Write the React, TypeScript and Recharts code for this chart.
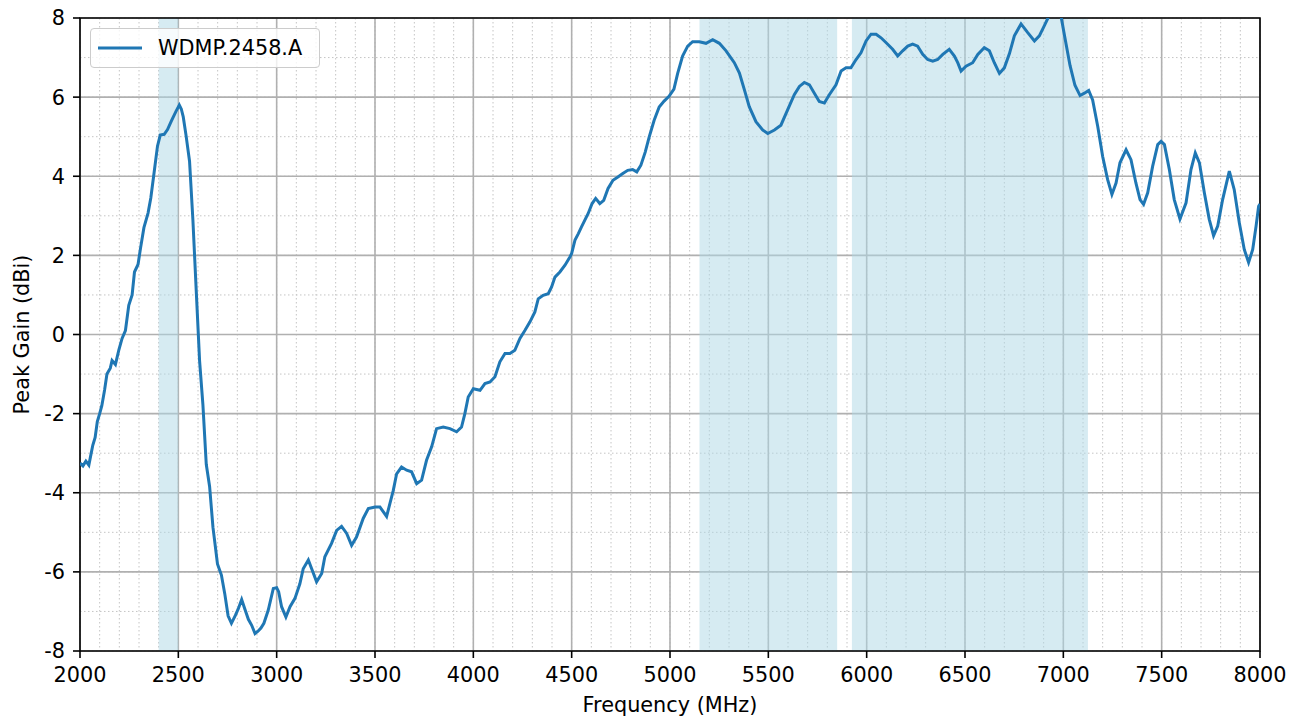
import React from 'react';
import {
  CartesianGrid,
  Legend,
  Line,
  LineChart,
  ReferenceArea,
  XAxis,
  YAxis,
} from 'recharts';

const FREQ = [
  2000, 2015, 2030, 2045, 2055, 2065, 2077, 2088, 2100, 2111, 2125, 2137, 2154, 2163, 2180, 2197,
  2214, 2231, 2248, 2265, 2277, 2295, 2308, 2325, 2346, 2360, 2377, 2394, 2408, 2428, 2445, 2466,
  2488, 2505, 2515, 2525, 2539, 2557, 2574, 2591, 2608, 2625, 2642, 2659, 2676, 2699, 2719, 2736,
  2753, 2770, 2790, 2805, 2822, 2839, 2856, 2873, 2890, 2905, 2920, 2935, 2957, 2983, 3000, 3010,
  3025, 3047, 3068, 3093, 3118, 3135, 3161, 3178, 3203, 3229, 3245, 3279, 3305, 3330, 3356, 3381,
  3406, 3440, 3466, 3500, 3525, 3559, 3576, 3593, 3610, 3635, 3661, 3686, 3712, 3737, 3762, 3788,
  3813, 3847, 3881, 3915, 3940, 3957, 3974, 4000, 4034, 4059, 4085, 4110, 4135, 4161, 4186, 4211,
  4237, 4262, 4288, 4313, 4330, 4355, 4381, 4398, 4415, 4440, 4466, 4491, 4500, 4517, 4534, 4550,
  4567, 4584, 4604, 4622, 4643, 4663, 4685, 4710, 4735, 4760, 4785, 4810, 4831, 4852, 4874, 4894,
  4919, 4945, 4970, 4995, 5020, 5039, 5064, 5090, 5115, 5149, 5183, 5217, 5251, 5285, 5327, 5353,
  5378, 5403, 5437, 5471, 5497, 5531, 5564, 5598, 5632, 5658, 5683, 5709, 5734, 5759, 5785, 5810,
  5844, 5870, 5895, 5920, 5946, 5971, 5997, 6022, 6048, 6073, 6098, 6132, 6158, 6183, 6209, 6234,
  6259, 6285, 6310, 6336, 6361, 6387, 6420, 6446, 6463, 6480, 6505, 6539, 6565, 6598, 6624, 6649,
  6675, 6700, 6726, 6751, 6785, 6819, 6853, 6878, 6903, 6924, 6945, 6965, 6988, 7008, 7034, 7059,
  7085, 7107, 7129, 7149, 7175, 7200, 7225, 7247, 7268, 7288, 7319, 7344, 7369, 7390, 7408, 7429,
  7454, 7480, 7497, 7514, 7539, 7564, 7593, 7624, 7649, 7671, 7692, 7717, 7742, 7764, 7785, 7810,
  7844, 7869, 7895, 7920, 7942, 7963, 7980, 7993, 8000,
];

const GAIN = [
  -3.25, -3.32, -3.2, -3.3, -3.05, -2.8, -2.6, -2.2, -2.0, -1.8, -1.4, -1.0, -0.85, -0.66, -0.76, -0.4,
  -0.1, 0.1, 0.74, 1.0, 1.58, 1.77, 2.19, 2.7, 3.07, 3.45, 4.1, 4.76, 5.04, 5.06, 5.18, 5.41,
  5.64, 5.8, 5.7, 5.5, 5.04, 4.38, 2.9, 1.11, -0.66, -1.78, -3.28, -3.84, -4.87, -5.8, -6.08, -6.55,
  -7.11, -7.3, -7.1, -6.93, -6.7, -6.95, -7.2, -7.35, -7.56, -7.5, -7.42, -7.3, -6.97, -6.42, -6.4, -6.5,
  -6.88, -7.14, -6.88, -6.67, -6.3, -5.92, -5.7, -5.92, -6.25, -6.04, -5.62, -5.28, -4.95, -4.85, -5.03, -5.33,
  -5.12, -4.65, -4.4, -4.36, -4.36, -4.6, -4.27, -3.94, -3.52, -3.35, -3.43, -3.47, -3.77, -3.68, -3.18, -2.84,
  -2.38, -2.34, -2.38, -2.46, -2.34, -2.0, -1.58, -1.37, -1.41, -1.24, -1.2, -1.07, -0.69, -0.48, -0.48, -0.4,
  -0.1, 0.1, 0.32, 0.57, 0.9, 0.99, 1.03, 1.2, 1.45, 1.58, 1.75, 1.96, 2.05, 2.39, 2.55, 2.72,
  2.89, 3.06, 3.31, 3.44, 3.31, 3.39, 3.69, 3.9, 3.98, 4.07, 4.15, 4.17, 4.11, 4.28, 4.61, 4.99,
  5.41, 5.75, 5.9, 6.02, 6.2, 6.6, 7.04, 7.29, 7.4, 7.4, 7.36, 7.45, 7.36, 7.17, 6.87, 6.61,
  6.19, 5.76, 5.38, 5.17, 5.08, 5.17, 5.29, 5.68, 6.06, 6.27, 6.37, 6.31, 6.1, 5.89, 5.85, 6.06,
  6.31, 6.66, 6.74, 6.74, 6.95, 7.12, 7.42, 7.59, 7.59, 7.5, 7.38, 7.21, 7.04, 7.17, 7.29, 7.34,
  7.29, 7.08, 6.95, 6.91, 6.95, 7.08, 7.21, 7.04, 6.87, 6.66, 6.78, 6.87, 7.08, 7.25, 7.17, 6.87,
  6.6, 6.74, 7.1, 7.55, 7.85, 7.63, 7.42, 7.55, 7.8, 8.02, 8.2, 8.25, 8.05, 7.5, 6.8, 6.3,
  6.04, 6.1, 6.17, 5.93, 5.26, 4.5, 3.92, 3.54, 3.83, 4.34, 4.67, 4.42, 3.83, 3.41, 3.29, 3.58,
  4.25, 4.8, 4.88, 4.8, 4.17, 3.41, 2.92, 3.33, 4.17, 4.59, 4.34, 3.58, 2.91, 2.5, 2.74, 3.41,
  4.13, 3.66, 2.82, 2.15, 1.82, 2.15, 2.74, 3.24, 3.3,
];

// shaded frequency bands (MHz)
const BANDS = [
  [2400, 2500],
  [5150, 5850],
  [5925, 7125],
];

const X_MAJOR = [2000, 2500, 3000, 3500, 4000, 4500, 5000, 5500, 6000, 6500, 7000, 7500, 8000];
const X_MINOR = [
  2000, 2100, 2200, 2300, 2400, 2500, 2600, 2700, 2800, 2900, 3000, 3100, 3200, 3300, 3400, 3500,
  3600, 3700, 3800, 3900, 4000, 4100, 4200, 4300, 4400, 4500, 4600, 4700, 4800, 4900, 5000, 5100,
  5200, 5300, 5400, 5500, 5600, 5700, 5800, 5900, 6000, 6100, 6200, 6300, 6400, 6500, 6600, 6700,
  6800, 6900, 7000, 7100, 7200, 7300, 7400, 7500, 7600, 7700, 7800, 7900, 8000,
];
const Y_MAJOR = [-8, -6, -4, -2, 0, 2, 4, 6, 8];
const Y_MINOR = [-8, -7, -6, -5, -4, -3, -2, -1, 0, 1, 2, 3, 4, 5, 6, 7, 8];

const SERIES_NAME = 'WDMP.2458.A';
const BLUE = '#1f77b4';
const FONT = '"DejaVu Sans", sans-serif';
const FS = 20.8;

const data = FREQ.map((f, i) => ({ freq: f, gain: GAIN[i] }));

const noLabel = () => <g />;

function LegendBox({ payload }: { payload?: any[] }) {
  const item = payload && payload.find((p) => p.value === SERIES_NAME);
  return (
    <div
      style={{
        width: 230,
        height: 40,
        boxSizing: 'border-box',
        border: '1.3px solid #cccccc',
        borderRadius: 4,
        background: 'rgba(255,255,255,0.8)',
        display: 'flex',
        alignItems: 'center',
        fontFamily: FONT,
        fontSize: FS,
        color: '#000',
      }}
    >
      <svg width={46} height={10} style={{ marginLeft: 7, marginRight: 14 }}>
        <line x1={0} y1={5} x2={44} y2={5} stroke={item ? item.color : BLUE} strokeWidth={3} />
      </svg>
      <span>{item ? item.value : SERIES_NAME}</span>
    </div>
  );
}

export default function App() {
  return (
    <div style={{ position: 'absolute', left: 0, top: 0, width: 1302, height: 726, background: '#fff' }}>
      <LineChart
        width={1302}
        height={726}
        data={data}
        margin={{ top: 18, right: 42, bottom: 0, left: 0 }}
        style={{ fontFamily: FONT }}
      >
        <XAxis
          xAxisId="minor"
          dataKey="freq"
          type="number"
          domain={[2000, 8000]}
          allowDataOverflow
          ticks={X_MINOR}
          interval={0}
          tick={noLabel}
          tickSize={4}
          tickLine={{ stroke: '#000', strokeWidth: 1.2 }}
          axisLine={false}
          height={0}
        />
        <XAxis
          xAxisId="major"
          dataKey="freq"
          type="number"
          domain={[2000, 8000]}
          allowDataOverflow
          ticks={X_MAJOR}
          interval={0}
          tickSize={7}
          tickMargin={9}
          tick={{ fill: '#000', fontSize: FS, fontFamily: FONT }}
          tickLine={{ stroke: '#000', strokeWidth: 1.6 }}
          axisLine={false}
          height={75}
          label={{
            value: 'Frequency (MHz)',
            position: 'insideBottom',
            offset: 14,
            fill: '#000',
            fontSize: FS,
            fontFamily: FONT,
          }}
        />
        <YAxis
          yAxisId="minor"
          type="number"
          domain={[-8, 8]}
          allowDataOverflow
          ticks={Y_MINOR}
          interval={0}
          tick={noLabel}
          tickSize={4}
          tickLine={{ stroke: '#000', strokeWidth: 1.2 }}
          axisLine={false}
          width={0}
        />
        <YAxis
          yAxisId="major"
          type="number"
          domain={[-8, 8]}
          allowDataOverflow
          ticks={Y_MAJOR}
          interval={0}
          tickSize={7}
          tickMargin={8}
          tick={{ fill: '#000', fontSize: FS, fontFamily: FONT }}
          tickLine={{ stroke: '#000', strokeWidth: 1.6 }}
          axisLine={false}
          width={80}
          label={{
            value: 'Peak Gain (dBi)',
            angle: -90,
            position: 'insideLeft',
            offset: 22,
            fill: '#000',
            fontSize: FS,
            fontFamily: FONT,
            style: { textAnchor: 'middle' },
          }}
        />
        <CartesianGrid
          xAxisId="minor"
          yAxisId="minor"
          stroke="#c4c4c4"
          strokeWidth={1}
          strokeDasharray="1.5 2.5"
        />
        <CartesianGrid xAxisId="major" yAxisId="major" stroke="#b0b0b0" strokeWidth={1.6} />
        {BANDS.map(([a, b]) => (
          <ReferenceArea
            key={a}
            xAxisId="major"
            yAxisId="major"
            x1={a}
            x2={b}
            y1={-8}
            y2={8}
            fill="#add8e6"
            fillOpacity={0.5}
            stroke="none"
          />
        ))}
        <ReferenceArea
          xAxisId="major"
          yAxisId="major"
          x1={2000}
          x2={8000}
          y1={-8}
          y2={8}
          fill="none"
          stroke="#000"
          strokeWidth={1.6}
        />
        {/* invisible twin so the minor axes have a series bound to them */}
        <Line
          xAxisId="minor"
          yAxisId="minor"
          dataKey="gain"
          stroke="none"
          dot={false}
          activeDot={false}
          legendType="none"
          isAnimationActive={false}
        />
        <Line
          xAxisId="major"
          yAxisId="major"
          dataKey="gain"
          name={SERIES_NAME}
          type="linear"
          stroke={BLUE}
          strokeWidth={3}
          dot={false}
          activeDot={false}
          isAnimationActive={false}
        />
        <Legend
          layout="horizontal"
          verticalAlign="middle"
          align="center"
          content={<LegendBox />}
          wrapperStyle={{ left: 90, top: 28, width: 230, height: 40 }}
        />
      </LineChart>
    </div>
  );
}
